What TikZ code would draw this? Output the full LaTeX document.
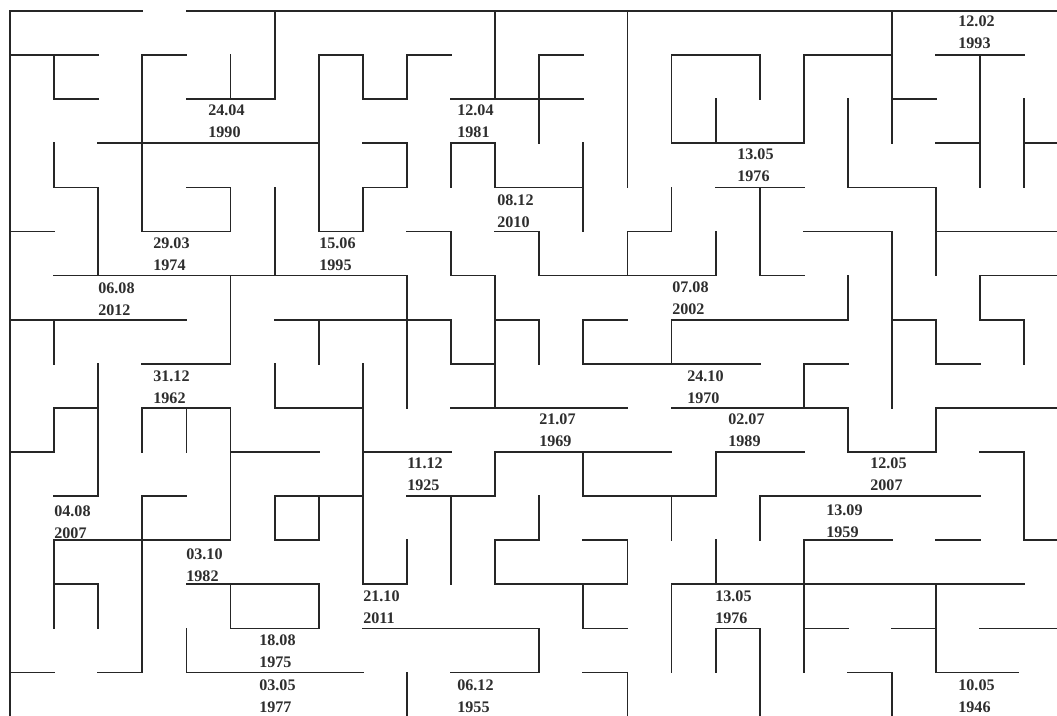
\documentclass[tikz,border=0pt]{standalone}
\usepackage{fontspec}
\setmainfont{Liberation Serif}
\begin{document}
\begin{tikzpicture}[x=1cm,y=-1cm,
  wall/.style={line width=1.15pt, draw=black!85, line cap=rect},
  datelbl/.style={anchor=west, inner sep=0pt, align=left, text=black!82,
    font=\bfseries\fontsize{10.4}{14.2}\selectfont}]
\useasboundingbox[fill=white] (-0.2268,-0.2494) rectangle (23.741,15.964);
\begin{scope}
\clip (-0.2268,-0.2494) rectangle (23.741,15.964);
% horizontal walls: row j, from a to b
\foreach \j/\a/\b in {
 0/0/3, 0/4/23.8,
 1/0/2, 1/3/4, 1/7/8, 1/9/10, 1/12/13, 1/15/17, 1/18/20, 1/21/23,
 2/1/2, 2/4/6, 2/8/9, 2/10/13, 2/20/21,
 3/2/7, 3/8/9, 3/10/11, 3/15/18, 3/21/22, 3/23/23.8,
 4/1/2, 4/4/5, 4/8/9, 4/11/13, 4/16/18, 4/19/21,
 5/0/1, 5/3/5, 5/7/8, 5/9/10, 5/11/12, 5/14/15, 5/18/20, 5/21/23.8,
 6/1/9, 6/10/11, 6/12/16, 6/17/18, 6/22/23.8,
 7/0/4, 7/6/10, 7/11/12, 7/13/14, 7/15/19, 7/20/21, 7/22/23,
 8/3/5, 8/10/11, 8/13/17, 8/18/19, 8/21/22,
 9/1/2, 9/3/5, 9/6/8, 9/10/14, 9/15/19, 9/21/23.8,
 10/0/1, 10/5/7, 10/8/10, 10/11/15, 10/16/18, 10/19/21, 10/22/23,
 11/1/2, 11/3/4, 11/6/8, 11/9/11, 11/13/16, 11/17/22,
 12/1/5, 12/6/7, 12/11/12, 12/13/14, 12/18/20, 12/21/22, 12/23/23.8,
 13/1/2, 13/4/7, 13/8/9, 13/11/14, 13/15/23,
 14/5/7, 14/8/12, 14/13/14, 14/16/17, 14/18/19, 14/20/21, 14/22/23.8,
 15/0/1, 15/2/3, 15/4/8, 15/10/12, 15/13/14, 15/19/20, 15/21/22.85}
 \draw[wall] (\a,\j) -- (\b,\j);
% vertical walls: column i, from a to b
\foreach \i/\a/\b in {
 0/0/16.2,
 1/1/2, 1/3/4, 1/7/8, 1/9/10, 1/12/14,
 2/4/6, 2/8/11, 2/13/14,
 3/1/5, 3/9/10, 3/11/15,
 4/9/10, 4/14/15,
 5/1/2, 5/4/5, 5/6/8, 5/9/12, 5/13/14,
 6/0/2, 6/4/6, 6/8/9, 6/11/12,
 7/1/5, 7/7/8, 7/11/12, 7/13/14,
 8/1/2, 8/4/5, 8/8/13,
 9/1/2, 9/3/4, 9/6/9, 9/12/13, 9/15/16.2,
 10/3/4, 10/5/6, 10/7/8, 10/11/13,
 11/0/2, 11/3/4, 11/6/9, 11/10/11, 11/12/13,
 12/1/3, 12/5/6, 12/7/8, 12/11/12, 12/14/15,
 13/3/5, 13/7/8, 13/10/11, 13/13/14,
 14/0/4, 14/5/6, 14/12/13, 14/15/16.2,
 15/1/3, 15/4/5, 15/7/8, 15/11/12, 15/13/15,
 16/2/3, 16/5/6, 16/10/11, 16/12/13, 16/14/15,
 17/1/2, 17/4/6, 17/11/12, 17/14/16.2,
 18/1/3, 18/8/9, 18/12/15,
 19/2/4, 19/6/7, 19/9/10,
 20/0/3, 20/5/9, 20/15/16.2,
 21/4/6, 21/7/8, 21/9/10, 21/13/15,
 22/1/4, 22/6/7,
 23/2/4, 23/7/8, 23/10/12}
 \draw[wall] (\i,\a) -- (\i,\b);
\end{scope}
% date labels
\node[datelbl] (d01) at (4.49,2.494) {24.04\\1990};
\node[datelbl] (d02) at (10.136,2.494) {12.04\\1981};
\node[datelbl] (d03) at (16.485,3.492) {13.05\\1976};
\node[datelbl] (d04) at (21.497,0.476) {12.02\\1993};
\node[datelbl] (d05) at (11.043,4.535) {08.12\\2010};
\node[datelbl] (d06) at (3.243,5.510) {29.03\\1974};
\node[datelbl] (d07) at (7.007,5.510) {15.06\\1995};
\node[datelbl] (d08) at (1.995,6.531) {06.08\\2012};
\node[datelbl] (d09) at (15.011,6.508) {07.08\\2002};
\node[datelbl] (d10) at (3.243,8.526) {31.12\\1962};
\node[datelbl] (d11) at (15.351,8.526) {24.10\\1970};
\node[datelbl] (d12) at (11.995,9.501) {21.07\\1969};
\node[datelbl] (d13) at (16.281,9.501) {02.07\\1989};
\node[datelbl] (d14) at (9.002,10.499) {11.12\\1925};
\node[datelbl] (d15) at (19.501,10.499) {12.05\\2007};
\node[datelbl] (d16) at (0.998,11.587) {04.08\\2007};
\node[datelbl] (d17) at (18.503,11.565) {13.09\\1959};
\node[datelbl] (d18) at (3.991,12.562) {03.10\\1982};
\node[datelbl] (d19) at (8.005,13.515) {21.10\\2011};
\node[datelbl] (d20) at (15.986,13.515) {13.05\\1976};
\node[datelbl] (d21) at (5.646,14.512) {18.08\\1975};
\node[datelbl] (d22) at (5.646,15.533) {03.05\\1977};
\node[datelbl] (d23) at (10.136,15.533) {06.12\\1955};
\node[datelbl] (d24) at (21.497,15.533) {10.05\\1946};
\end{tikzpicture}
\end{document}
